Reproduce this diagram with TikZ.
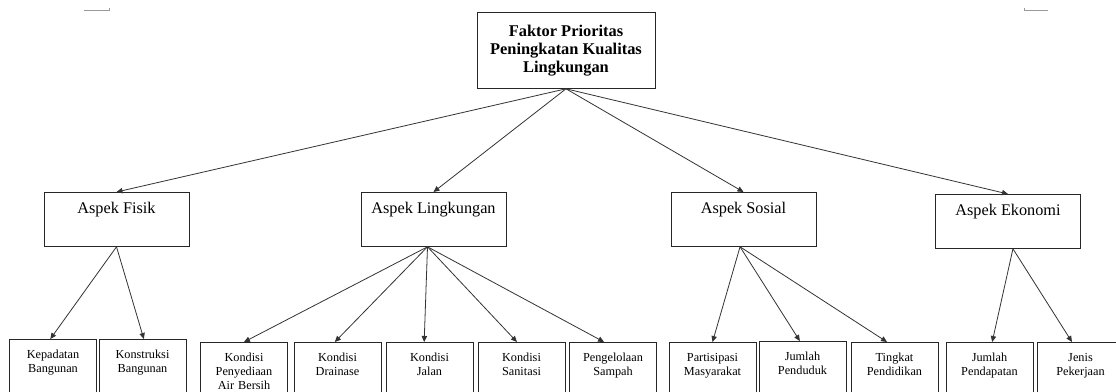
\documentclass[tikz,border=0pt]{standalone}
\usepackage{fontspec}
\setmainfont{Liberation Serif}
\usetikzlibrary{arrows.meta}

\tikzset{
  faktor/.style={draw=black!85, line width=0.6pt, anchor=north, align=center,
    inner sep=0pt, minimum width=133.5pt, minimum height=57pt,
    font=\bfseries\fontsize{12.3}{13.6}\selectfont},
  aspek/.style={draw=black!85, line width=0.6pt, anchor=north, inner sep=0pt,
    minimum width=108.75pt, text height=15.75pt, text depth=24.75pt,
    font=\fontsize{12.2}{14}\selectfont},
  subfaktor/.style={draw=black!85, line width=0.6pt, anchor=north, align=center,
    inner sep=0pt, text width=65.25pt, text height=14pt, text depth=42pt,
    font=\fontsize{9.2}{10.5}\selectfont},
  panah/.style={->, draw=black!80, line width=0.6pt},
  sudut/.style={draw=black!40, line width=0.6pt}
}

\begin{document}
\begin{tikzpicture}[x=0.75pt,y=-0.75pt,>={Triangle[length=4.5pt,width=4pt]}]
\useasboundingbox (0,0) rectangle (1116,392);
\clip (0,0) rectangle (1116,392);

% Corner marks
\draw[sudut] (84,10) -- (109,10) -- (109,8);
\draw[sudut] (1024,8) -- (1024,10) -- (1048,10);

% Goal
\node[faktor] (faktor) at (566,12) {Faktor Prioritas\\Peningkatan Kualitas\\Lingkungan};

% Aspects
\node[aspek] (fisik) at (116.5,192) {Aspek Fisik};
\node[aspek] (lingkungan) at (433.5,192) {Aspek Lingkungan};
\node[aspek] (sosial) at (743.5,192) {Aspek Sosial};
\node[aspek] (ekonomi) at (1008,194) {Aspek Ekonomi};

% Sub-factors
\foreach \nama/\x/\y/\teks in {
    kepadatan/53/339/{Kepadatan\\Bangunan},
    konstruksi/142.5/339/{Konstruksi\\Bangunan},
    airbersih/244/342/{Kondisi\\Penyediaan\\Air Bersih},
    drainase/337.5/342/{Kondisi\\Drainase},
    jalan/429.5/342/{Kondisi\\Jalan},
    sanitasi/521.5/342/{Kondisi\\Sanitasi},
    sampah/613/342/{Pengelolaan\\Sampah},
    partisipasi/712.5/342/{Partisipasi\\Masyarakat},
    penduduk/802.5/341/{Jumlah\\Penduduk},
    pendidikan/894.5/342/{Tingkat\\Pendidikan},
    pendapatan/989.5/342/{Jumlah\\Pendapatan},
    pekerjaan/1080.5/342/{Jenis\\Pekerjaan}} {
    \node[subfaktor] (\nama) at (\x,\y) {\teks};
}

% Arrows
\foreach \ke in {fisik,lingkungan,sosial,ekonomi}
    \draw[panah] (faktor.south) -- (\ke.north);

\draw[panah] (fisik.south) -- ([xshift=-2pt]kepadatan.north);
\draw[panah] (fisik.south) -- ([xshift=1pt]konstruksi.north);

\draw[panah] ([xshift=-4.5pt]lingkungan.south) -- (airbersih.north);
\draw[panah] ([xshift=-4.5pt]lingkungan.south) -- ([xshift=-2pt]drainase.north);
\draw[panah] ([xshift=-4.5pt]lingkungan.south) -- ([xshift=-4pt]jalan.north);
\draw[panah] ([xshift=-4.5pt]lingkungan.south) -- ([xshift=-3.4pt]sanitasi.north);
\draw[panah] ([xshift=-4.5pt]lingkungan.south) -- ([xshift=-6.7pt]sampah.north);

\draw[panah] ([xshift=-2.6pt]sosial.south) -- (partisipasi.north);
\draw[panah] ([xshift=-2.6pt]sosial.south) -- ([xshift=-2pt]penduduk.north);
\draw[panah] ([xshift=-2.6pt]sosial.south) -- ([xshift=-5.6pt]pendidikan.north);

\draw[panah] ([xshift=3.7pt]ekonomi.south) -- ([xshift=2pt]pendapatan.north);
\draw[panah] ([xshift=3.7pt]ekonomi.south) -- ([xshift=-6.4pt]pekerjaan.north);
\end{tikzpicture}
\end{document}
